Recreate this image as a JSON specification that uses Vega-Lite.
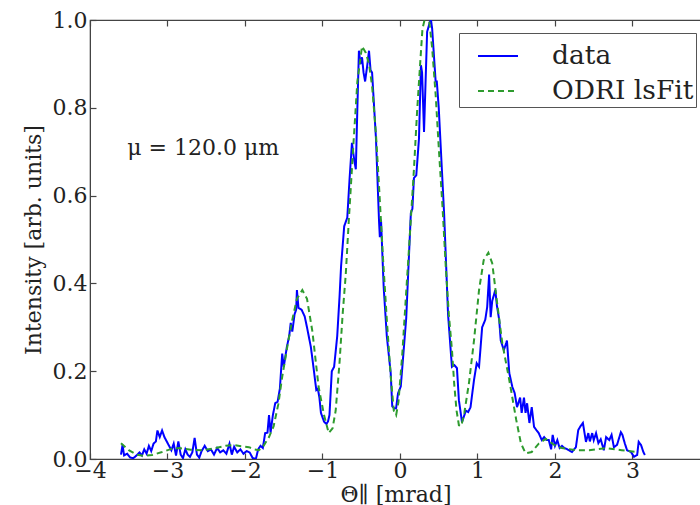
{
  "$schema": "https://vega.github.io/schema/vega-lite/v6.json",
  "autosize": {"type": "none"},
  "padding": {"left": 90, "top": 20, "right": 0, "bottom": 46},
  "width": 611,
  "height": 439,
  "background": "white",
  "config": {
    "font": "DejaVu Serif",
    "view": {"stroke": "#444", "strokeWidth": 1.2},
    "axis": {"grid": false, "labelFont": "DejaVu Serif", "titleFont": "DejaVu Serif", "labelFontSize": 22, "titleFontSize": 22, "titleFontWeight": "normal", "labelColor": "#222", "titleColor": "#222", "domainColor": "#444", "tickColor": "#444", "tickWidth": 1.2}
  },
  "datasets": {
    "curves": [
      {"s":"data","x":-3.60,"y":0.010},{"s":"data","x":-3.58,"y":0.032},{"s":"data","x":-3.56,"y":0.008},{"s":"data","x":-3.52,"y":0.012},{"s":"data","x":-3.48,"y":0.003},{"s":"data","x":-3.44,"y":0.002},{"s":"data","x":-3.40,"y":0.008},{"s":"data","x":-3.36,"y":0.015},{"s":"data","x":-3.33,"y":0.008},{"s":"data","x":-3.30,"y":0.022},{"s":"data","x":-3.27,"y":0.012},{"s":"data","x":-3.24,"y":0.030},{"s":"data","x":-3.21,"y":0.018},{"s":"data","x":-3.18,"y":0.035},{"s":"data","x":-3.15,"y":0.040},{"s":"data","x":-3.13,"y":0.065},{"s":"data","x":-3.10,"y":0.050},{"s":"data","x":-3.07,"y":0.065},{"s":"data","x":-3.04,"y":0.050},{"s":"data","x":-3.01,"y":0.040},{"s":"data","x":-2.98,"y":0.030},{"s":"data","x":-2.95,"y":0.020},{"s":"data","x":-2.92,"y":0.035},{"s":"data","x":-2.89,"y":0.008},{"s":"data","x":-2.86,"y":0.040},{"s":"data","x":-2.83,"y":0.010},{"s":"data","x":-2.80,"y":0.002},{"s":"data","x":-2.77,"y":0.022},{"s":"data","x":-2.74,"y":0.010},{"s":"data","x":-2.71,"y":0.005},{"s":"data","x":-2.68,"y":0.015},{"s":"data","x":-2.65,"y":0.048},{"s":"data","x":-2.62,"y":0.010},{"s":"data","x":-2.59,"y":0.003},{"s":"data","x":-2.56,"y":0.018},{"s":"data","x":-2.52,"y":0.030},{"s":"data","x":-2.48,"y":0.018},{"s":"data","x":-2.44,"y":0.022},{"s":"data","x":-2.40,"y":0.010},{"s":"data","x":-2.36,"y":0.025},{"s":"data","x":-2.32,"y":0.015},{"s":"data","x":-2.28,"y":0.020},{"s":"data","x":-2.24,"y":0.012},{"s":"data","x":-2.20,"y":0.035},{"s":"data","x":-2.17,"y":0.010},{"s":"data","x":-2.14,"y":0.028},{"s":"data","x":-2.10,"y":0.015},{"s":"data","x":-2.06,"y":0.022},{"s":"data","x":-2.02,"y":0.012},{"s":"data","x":-1.98,"y":0.018},{"s":"data","x":-1.94,"y":0.015},{"s":"data","x":-1.90,"y":0.002},{"s":"data","x":-1.86,"y":0.000},{"s":"data","x":-1.83,"y":0.022},{"s":"data","x":-1.80,"y":0.030},{"s":"data","x":-1.77,"y":0.025},{"s":"data","x":-1.74,"y":0.059},{"s":"data","x":-1.71,"y":0.060},{"s":"data","x":-1.69,"y":0.100},{"s":"data","x":-1.67,"y":0.060},{"s":"data","x":-1.64,"y":0.100},{"s":"data","x":-1.61,"y":0.127},{"s":"data","x":-1.58,"y":0.130},{"s":"data","x":-1.55,"y":0.160},{"s":"data","x":-1.52,"y":0.240},{"s":"data","x":-1.50,"y":0.210},{"s":"data","x":-1.46,"y":0.255},{"s":"data","x":-1.43,"y":0.280},{"s":"data","x":-1.41,"y":0.310},{"s":"data","x":-1.39,"y":0.290},{"s":"data","x":-1.36,"y":0.330},{"s":"data","x":-1.34,"y":0.340},{"s":"data","x":-1.33,"y":0.385},{"s":"data","x":-1.31,"y":0.344},{"s":"data","x":-1.27,"y":0.340},{"s":"data","x":-1.23,"y":0.325},{"s":"data","x":-1.20,"y":0.300},{"s":"data","x":-1.15,"y":0.255},{"s":"data","x":-1.11,"y":0.200},{"s":"data","x":-1.08,"y":0.157},{"s":"data","x":-1.06,"y":0.160},{"s":"data","x":-1.04,"y":0.140},{"s":"data","x":-1.02,"y":0.105},{"s":"data","x":-0.98,"y":0.085},{"s":"data","x":-0.95,"y":0.080},{"s":"data","x":-0.93,"y":0.085},{"s":"data","x":-0.91,"y":0.100},{"s":"data","x":-0.88,"y":0.200},{"s":"data","x":-0.85,"y":0.210},{"s":"data","x":-0.81,"y":0.280},{"s":"data","x":-0.78,"y":0.370},{"s":"data","x":-0.76,"y":0.440},{"s":"data","x":-0.72,"y":0.530},{"s":"data","x":-0.68,"y":0.550},{"s":"data","x":-0.65,"y":0.640},{"s":"data","x":-0.62,"y":0.720},{"s":"data","x":-0.59,"y":0.680},{"s":"data","x":-0.57,"y":0.660},{"s":"data","x":-0.55,"y":0.800},{"s":"data","x":-0.53,"y":0.930},{"s":"data","x":-0.51,"y":0.900},{"s":"data","x":-0.49,"y":0.915},{"s":"data","x":-0.47,"y":0.880},{"s":"data","x":-0.45,"y":0.860},{"s":"data","x":-0.42,"y":0.900},{"s":"data","x":-0.40,"y":0.930},{"s":"data","x":-0.38,"y":0.886},{"s":"data","x":-0.36,"y":0.880},{"s":"data","x":-0.31,"y":0.730},{"s":"data","x":-0.27,"y":0.540},{"s":"data","x":-0.26,"y":0.505},{"s":"data","x":-0.245,"y":0.545},{"s":"data","x":-0.21,"y":0.390},{"s":"data","x":-0.17,"y":0.280},{"s":"data","x":-0.12,"y":0.196},{"s":"data","x":-0.10,"y":0.120},{"s":"data","x":-0.07,"y":0.115},{"s":"data","x":-0.05,"y":0.116},{"s":"data","x":-0.025,"y":0.150},{"s":"data","x":0.01,"y":0.165},{"s":"data","x":0.08,"y":0.320},{"s":"data","x":0.14,"y":0.560},{"s":"data","x":0.16,"y":0.570},{"s":"data","x":0.18,"y":0.640},{"s":"data","x":0.21,"y":0.646},{"s":"data","x":0.245,"y":0.730},{"s":"data","x":0.27,"y":0.897},{"s":"data","x":0.285,"y":0.880},{"s":"data","x":0.31,"y":0.745},{"s":"data","x":0.35,"y":0.973},{"s":"data","x":0.385,"y":0.995},{"s":"data","x":0.40,"y":1.000},{"s":"data","x":0.415,"y":0.980},{"s":"data","x":0.46,"y":0.860},{"s":"data","x":0.475,"y":0.860},{"s":"data","x":0.50,"y":0.800},{"s":"data","x":0.57,"y":0.556},{"s":"data","x":0.62,"y":0.330},{"s":"data","x":0.67,"y":0.210},{"s":"data","x":0.70,"y":0.214},{"s":"data","x":0.735,"y":0.207},{"s":"data","x":0.76,"y":0.134},{"s":"data","x":0.80,"y":0.084},{"s":"data","x":0.85,"y":0.110},{"s":"data","x":0.88,"y":0.107},{"s":"data","x":0.91,"y":0.118},{"s":"data","x":0.955,"y":0.180},{"s":"data","x":0.99,"y":0.218},{"s":"data","x":1.02,"y":0.210},{"s":"data","x":1.06,"y":0.300},{"s":"data","x":1.10,"y":0.317},{"s":"data","x":1.125,"y":0.346},{"s":"data","x":1.15,"y":0.420},{"s":"data","x":1.17,"y":0.323},{"s":"data","x":1.19,"y":0.360},{"s":"data","x":1.23,"y":0.385},{"s":"data","x":1.25,"y":0.350},{"s":"data","x":1.28,"y":0.317},{"s":"data","x":1.30,"y":0.270},{"s":"data","x":1.34,"y":0.248},{"s":"data","x":1.37,"y":0.264},{"s":"data","x":1.38,"y":0.270},{"s":"data","x":1.41,"y":0.196},{"s":"data","x":1.45,"y":0.164},{"s":"data","x":1.48,"y":0.150},{"s":"data","x":1.51,"y":0.118},{"s":"data","x":1.55,"y":0.140},{"s":"data","x":1.57,"y":0.105},{"s":"data","x":1.60,"y":0.140},{"s":"data","x":1.62,"y":0.105},{"s":"data","x":1.64,"y":0.127},{"s":"data","x":1.67,"y":0.082},{"s":"data","x":1.70,"y":0.118},{"s":"data","x":1.73,"y":0.073},{"s":"data","x":1.76,"y":0.066},{"s":"data","x":1.79,"y":0.059},{"s":"data","x":1.83,"y":0.043},{"s":"data","x":1.86,"y":0.050},{"s":"data","x":1.89,"y":0.043},{"s":"data","x":1.92,"y":0.043},{"s":"data","x":1.95,"y":0.022},{"s":"data","x":1.97,"y":0.055},{"s":"data","x":2.00,"y":0.030},{"s":"data","x":2.03,"y":0.043},{"s":"data","x":2.06,"y":0.025},{"s":"data","x":2.09,"y":0.030},{"s":"data","x":2.12,"y":0.025},{"s":"data","x":2.15,"y":0.023},{"s":"data","x":2.18,"y":0.020},{"s":"data","x":2.22,"y":0.016},{"s":"data","x":2.27,"y":0.027},{"s":"data","x":2.30,"y":0.066},{"s":"data","x":2.33,"y":0.075},{"s":"data","x":2.36,"y":0.082},{"s":"data","x":2.40,"y":0.039},{"s":"data","x":2.43,"y":0.059},{"s":"data","x":2.45,"y":0.040},{"s":"data","x":2.48,"y":0.059},{"s":"data","x":2.50,"y":0.043},{"s":"data","x":2.53,"y":0.059},{"s":"data","x":2.56,"y":0.036},{"s":"data","x":2.59,"y":0.045},{"s":"data","x":2.63,"y":0.020},{"s":"data","x":2.66,"y":0.050},{"s":"data","x":2.70,"y":0.043},{"s":"data","x":2.73,"y":0.055},{"s":"data","x":2.76,"y":0.027},{"s":"data","x":2.80,"y":0.032},{"s":"data","x":2.85,"y":0.061},{"s":"data","x":2.87,"y":0.055},{"s":"data","x":2.90,"y":0.036},{"s":"data","x":2.93,"y":0.020},{"s":"data","x":2.98,"y":0.016},{"s":"data","x":3.02,"y":0.005},{"s":"data","x":3.06,"y":0.009},{"s":"data","x":3.08,"y":0.039},{"s":"data","x":3.11,"y":0.032},{"s":"data","x":3.14,"y":0.016},{"s":"data","x":3.16,"y":0.009},
      {"s":"ODRI lsFit","x":-3.60,"y":0.036},{"s":"ODRI lsFit","x":-3.50,"y":0.020},{"s":"ODRI lsFit","x":-3.40,"y":0.010},{"s":"ODRI lsFit","x":-3.30,"y":0.007},{"s":"ODRI lsFit","x":-3.20,"y":0.009},{"s":"ODRI lsFit","x":-3.07,"y":0.016},{"s":"ODRI lsFit","x":-2.95,"y":0.023},{"s":"ODRI lsFit","x":-2.85,"y":0.025},{"s":"ODRI lsFit","x":-2.70,"y":0.021},{"s":"ODRI lsFit","x":-2.55,"y":0.020},{"s":"ODRI lsFit","x":-2.40,"y":0.024},{"s":"ODRI lsFit","x":-2.25,"y":0.030},{"s":"ODRI lsFit","x":-2.15,"y":0.032},{"s":"ODRI lsFit","x":-2.05,"y":0.029},{"s":"ODRI lsFit","x":-1.95,"y":0.027},{"s":"ODRI lsFit","x":-1.88,"y":0.022},{"s":"ODRI lsFit","x":-1.82,"y":0.020},{"s":"ODRI lsFit","x":-1.76,"y":0.030},{"s":"ODRI lsFit","x":-1.69,"y":0.050},{"s":"ODRI lsFit","x":-1.63,"y":0.075},{"s":"ODRI lsFit","x":-1.57,"y":0.125},{"s":"ODRI lsFit","x":-1.52,"y":0.187},{"s":"ODRI lsFit","x":-1.45,"y":0.260},{"s":"ODRI lsFit","x":-1.39,"y":0.317},{"s":"ODRI lsFit","x":-1.33,"y":0.365},{"s":"ODRI lsFit","x":-1.26,"y":0.385},{"s":"ODRI lsFit","x":-1.20,"y":0.365},{"s":"ODRI lsFit","x":-1.13,"y":0.290},{"s":"ODRI lsFit","x":-1.05,"y":0.164},{"s":"ODRI lsFit","x":-0.98,"y":0.100},{"s":"ODRI lsFit","x":-0.92,"y":0.059},{"s":"ODRI lsFit","x":-0.87,"y":0.070},{"s":"ODRI lsFit","x":-0.83,"y":0.110},{"s":"ODRI lsFit","x":-0.78,"y":0.220},{"s":"ODRI lsFit","x":-0.74,"y":0.330},{"s":"ODRI lsFit","x":-0.70,"y":0.420},{"s":"ODRI lsFit","x":-0.66,"y":0.545},{"s":"ODRI lsFit","x":-0.60,"y":0.720},{"s":"ODRI lsFit","x":-0.55,"y":0.860},{"s":"ODRI lsFit","x":-0.49,"y":0.940},{"s":"ODRI lsFit","x":-0.44,"y":0.925},{"s":"ODRI lsFit","x":-0.40,"y":0.900},{"s":"ODRI lsFit","x":-0.36,"y":0.850},{"s":"ODRI lsFit","x":-0.31,"y":0.740},{"s":"ODRI lsFit","x":-0.27,"y":0.620},{"s":"ODRI lsFit","x":-0.22,"y":0.460},{"s":"ODRI lsFit","x":-0.17,"y":0.317},{"s":"ODRI lsFit","x":-0.12,"y":0.190},{"s":"ODRI lsFit","x":-0.08,"y":0.110},{"s":"ODRI lsFit","x":-0.05,"y":0.100},{"s":"ODRI lsFit","x":-0.02,"y":0.130},{"s":"ODRI lsFit","x":0.03,"y":0.240},{"s":"ODRI lsFit","x":0.08,"y":0.380},{"s":"ODRI lsFit","x":0.12,"y":0.490},{"s":"ODRI lsFit","x":0.18,"y":0.660},{"s":"ODRI lsFit","x":0.22,"y":0.790},{"s":"ODRI lsFit","x":0.26,"y":0.900},{"s":"ODRI lsFit","x":0.29,"y":0.980},{"s":"ODRI lsFit","x":0.33,"y":1.010},{"s":"ODRI lsFit","x":0.37,"y":1.010},{"s":"ODRI lsFit","x":0.415,"y":0.936},{"s":"ODRI lsFit","x":0.46,"y":0.830},{"s":"ODRI lsFit","x":0.50,"y":0.710},{"s":"ODRI lsFit","x":0.55,"y":0.570},{"s":"ODRI lsFit","x":0.59,"y":0.440},{"s":"ODRI lsFit","x":0.63,"y":0.330},{"s":"ODRI lsFit","x":0.67,"y":0.250},{"s":"ODRI lsFit","x":0.70,"y":0.170},{"s":"ODRI lsFit","x":0.73,"y":0.110},{"s":"ODRI lsFit","x":0.76,"y":0.077},{"s":"ODRI lsFit","x":0.79,"y":0.075},{"s":"ODRI lsFit","x":0.83,"y":0.105},{"s":"ODRI lsFit","x":0.89,"y":0.173},{"s":"ODRI lsFit","x":0.955,"y":0.270},{"s":"ODRI lsFit","x":1.02,"y":0.385},{"s":"ODRI lsFit","x":1.08,"y":0.453},{"s":"ODRI lsFit","x":1.14,"y":0.470},{"s":"ODRI lsFit","x":1.19,"y":0.446},{"s":"ODRI lsFit","x":1.25,"y":0.360},{"s":"ODRI lsFit","x":1.32,"y":0.264},{"s":"ODRI lsFit","x":1.41,"y":0.180},{"s":"ODRI lsFit","x":1.50,"y":0.089},{"s":"ODRI lsFit","x":1.56,"y":0.036},{"s":"ODRI lsFit","x":1.62,"y":0.013},{"s":"ODRI lsFit","x":1.70,"y":0.016},{"s":"ODRI lsFit","x":1.79,"y":0.035},{"s":"ODRI lsFit","x":1.88,"y":0.046},{"s":"ODRI lsFit","x":1.99,"y":0.032},{"s":"ODRI lsFit","x":2.09,"y":0.025},{"s":"ODRI lsFit","x":2.27,"y":0.020},{"s":"ODRI lsFit","x":2.44,"y":0.020},{"s":"ODRI lsFit","x":2.66,"y":0.025},{"s":"ODRI lsFit","x":2.86,"y":0.020},{"s":"ODRI lsFit","x":3.05,"y":0.016},{"s":"ODRI lsFit","x":3.08,"y":0.016}
    ],
    "note": [{"x": -3.52, "y": 0.708, "label": "μ = 120.0 μm"}]
  },
  "resolve": {"axis": {"x": "independent", "y": "independent"}},
  "layer": [
    {
      "data": {"name": "curves"},
      "mark": {"type": "line", "strokeWidth": 2, "clip": true},
      "encoding": {
        "x": {"field": "x", "type": "quantitative", "scale": {"domain": [-4, 3.884], "nice": false, "zero": false},
          "axis": {"values": [-4, -3, -2, -1, 0, 1, 2, 3], "title": "Θ∥ [mrad]", "tickSize": -6, "labelPadding": 7, "titlePadding": 3, "labelFlush": false}},
        "y": {"field": "y", "type": "quantitative", "scale": {"domain": [0, 1], "nice": false},
          "axis": {"values": [0, 0.2, 0.4, 0.6, 0.8, 1.0], "format": ".1f", "title": "Intensity [arb. units]", "tickSize": -6, "labelPadding": 9, "titlePadding": 7, "labelFlush": false}},
        "color": {"field": "s", "type": "nominal", "scale": {"domain": ["data", "ODRI lsFit"], "range": ["#0000ff", "#2e9b2e"]},
          "legend": {"title": null, "orient": "none", "legendX": 369, "legendY": 13, "symbolType": "stroke", "symbolSize": 1600, "symbolStrokeWidth": 2, "labelFontSize": 26.5, "labelFont": "DejaVu Serif", "labelColor": "#222", "labelOffset": 33, "padding": 2, "symbolOffset": 16, "rowPadding": 0, "strokeColor": "#555", "fillColor": "white", "cornerRadius": 0}},
        "strokeDash": {"field": "s", "type": "nominal", "scale": {"domain": ["data", "ODRI lsFit"], "range": [[1, 0], [6, 4]]}, "legend": null}
      }
    },
    {
      "data": {"name": "note"},
      "mark": {"type": "text", "align": "left", "baseline": "middle", "fontSize": 22, "font": "DejaVu Serif", "color": "#222"},
      "encoding": {
        "x": {"field": "x", "type": "quantitative", "scale": {"domain": [-4, 3.884], "nice": false, "zero": false},
          "axis": {"orient": "top", "values": [-4, -3, -2, -1, 0, 1, 2, 3], "labels": false, "title": null, "tickSize": -6, "domain": false}},
        "y": {"field": "y", "type": "quantitative", "scale": {"domain": [0, 1], "nice": false}, "axis": null},
        "text": {"field": "label"}
      }
    }
  ]
}
